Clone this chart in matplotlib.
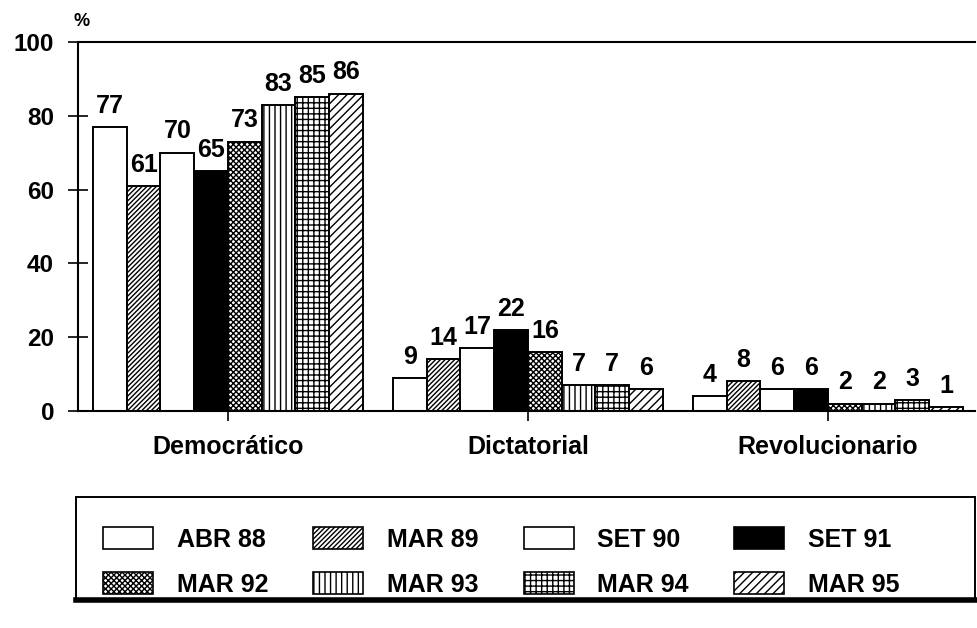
import matplotlib
matplotlib.use("Agg")
import matplotlib.pyplot as plt
from matplotlib.patches import Rectangle, Patch
from matplotlib.lines import Line2D
import numpy as np

categories = ["Democrático", "Dictatorial", "Revolucionario"]
series = ["ABR 88", "MAR 89", "SET 90", "SET 91", "MAR 92", "MAR 93", "MAR 94", "MAR 95"]
abr88 = [77, 9, 4]
mar89 = [61, 14, 8]
set90 = [70, 17, 6]
set91 = [65, 22, 6]
mar92 = [73, 16, 2]
mar93 = [83, 7, 2]
mar94 = [85, 7, 3]
mar95 = [86, 6, 1]
values = [abr88, mar89, set90, set91, mar92, mar93, mar94, mar95]
yticks = [0, 20, 40, 60, 80, 100]

styles = [
    dict(facecolor="white", hatch=None),
    dict(facecolor="white", hatch="///////"),
    dict(facecolor="white", hatch=None),
    dict(facecolor="black", hatch=None),
    dict(facecolor="white", hatch="xxxxxx"),
    dict(facecolor="white", hatch="|||"),
    dict(facecolor="white", hatch="+++"),
    dict(facecolor="white", hatch="////"),
]

plt.rcParams["font.family"] = ["Liberation Sans", "DejaVu Sans"]
plt.rcParams["font.weight"] = "bold"
plt.rcParams["hatch.linewidth"] = 1.0

W, H = 978, 628
fig = plt.figure(figsize=(W / 100, H / 100), dpi=100)
ax = fig.add_axes([78 / W, (H - 411) / H, (975 - 78) / W, (411 - 42) / H])

w = 0.1125
x = np.arange(len(categories))
for j, (name, vals) in enumerate(zip(series, values)):
    pos = x + (j - 3.5) * w
    ax.bar(pos, vals, width=w, edgecolor="black", linewidth=1.4, **styles[j])
    for p, v in zip(pos, vals):
        ax.text(p, v + 2.5, str(v), ha="center", va="bottom", fontsize=18, fontweight="bold")

ax.set_xlim(-0.5, 2.49)
ax.set_ylim(0, 100)
ax.set_yticks(yticks)
ax.set_yticklabels([str(t) for t in yticks], fontsize=17.5, fontweight="bold")
ax.set_xticks(x)
ax.set_xticklabels(categories, fontsize=18, fontweight="bold")
ax.tick_params(axis="y", direction="inout", length=14.4, width=1.2, pad=10)
ax.tick_params(axis="x", direction="out", length=7, width=1.2, pad=10)
ax.spines["right"].set_visible(False)
for s in ["left", "top", "bottom"]:
    ax.spines[s].set_linewidth(1.5)

fig.text(82 / W, 1 - 22 / H, "%", ha="center", va="center", fontsize=13, fontweight="bold")

# legend box
fig.patches.append(Rectangle((76 / W, 1 - 600 / H), (975 - 76) / W, (600 - 497) / H,
                             transform=fig.transFigure, facecolor="none", edgecolor="black",
                             linewidth=1.4))
fig.lines.append(Line2D([76 / W, 975 / W], [1 - 600 / H, 1 - 600 / H], transform=fig.transFigure,
                        color="black", linewidth=4))

handles = [Patch(edgecolor="black", linewidth=1.2, label=n, **styles[j]) for j, n in enumerate(series)]
order = [0, 4, 1, 5, 2, 6, 3, 7]
leg = fig.legend([handles[i] for i in order], [series[i] for i in order], ncol=4,
                 loc="upper left", bbox_to_anchor=(103 / W, 1 - 527 / H), frameon=False,
                 borderpad=0, borderaxespad=0,
                 handlelength=2.0, handleheight=1.0, handletextpad=0.95,
                 columnspacing=1.8, labelspacing=0.8, prop={"weight": "bold", "size": 18})

fig.savefig("out.png", dpi=100)
